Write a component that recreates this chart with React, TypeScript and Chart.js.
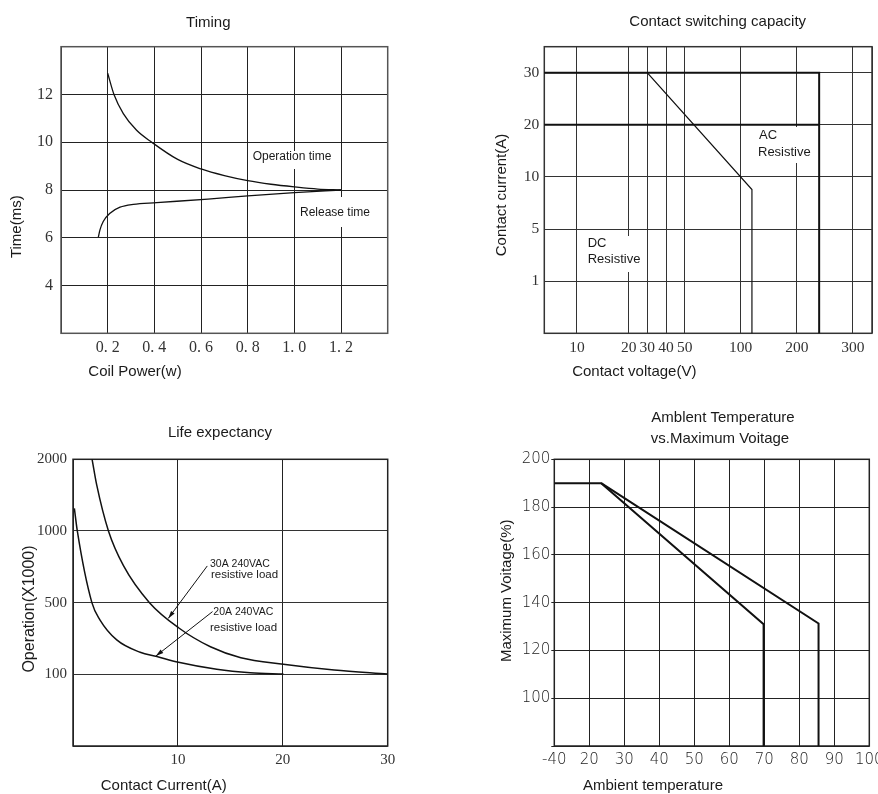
import React, { useEffect, useRef } from 'react';
import { Chart, LinearScale, registerables } from 'chart.js';

Chart.register(...registerables);

// ---------------- DATA ----------------
// Timing
const TIMING_X_TICKS = [0, 0.2, 0.4, 0.6, 0.8, 1.0, 1.2, 1.4];
const TIMING_Y_TICKS = [2, 4, 6, 8, 10, 12, 14];
const OP_POWER = [0.2, 0.227, 0.267, 0.324, 0.389, 0.5, 0.6, 0.7, 0.8, 0.9, 1.0, 1.1, 1.2];
const OP_TIME = [12.89, 12.0, 11.2, 10.5, 10.0, 9.28, 8.88, 8.6, 8.39, 8.24, 8.13, 8.04, 8.0];
const REL_POWER = [0.16, 0.167, 0.181, 0.21, 0.253, 0.31, 0.41, 0.63, 0.8, 1.0, 1.2];
const REL_TIME = [6.03, 6.33, 6.68, 7.03, 7.28, 7.4, 7.47, 7.62, 7.75, 7.89, 8.0];

// Contact switching capacity (axes with scale breaks)
const VOLT_BREAKS = [0, 10, 20, 30, 40, 50, 100, 200, 300, 334];
const VOLT_SLOTS = [0, 1.75, 4.52, 5.52, 6.52, 7.52, 10.52, 13.52, 16.52, 17.55];
const VOLT_LABELS = ['', '10', '20', '30', '40', '50', '100', '200', '300', ''];
const AMP_BREAKS = [0, 1, 5, 10, 20, 30, 35];
const AMP_SLOTS = [0, 1, 2, 3, 4, 5, 5.5];
const AMP_LABELS = ['', '1', '5', '10', '20', '30', ''];
const DC_VOLT = [0, 30, 120, 120];
const DC_AMP = [30, 30, 8.8, 0];
const AC30_VOLT = [0, 240, 240];
const AC30_AMP = [30, 30, 0];
const AC20_VOLT = [0, 240];
const AC20_AMP = [20, 20];

// Life expectancy
const LIFE_X_TICKS = [0, 10, 20, 30];
const OPS_BREAKS = [0, 100, 500, 1000, 2000];
const OPS_SLOTS = [0, 1, 2, 3, 4];
const OPS_LABELS = ['', '100', '500', '1000', '2000'];
const CUR30 = [1.82, 2.26, 3.38, 4.81, 7.29, 10.06, 13.1, 16.0, 20.06, 24.9, 30];
const OPS30 = [2000, 1642, 1000, 758, 500, 360, 254, 193, 156, 124, 102];
const CUR20 = [0.13, 0.41, 1.8, 2.58, 4.17, 6.4, 8.0, 10.06, 13.7, 16.9, 20.06];
const OPS20 = [1316, 1000, 500, 403, 292, 223, 199, 167, 128, 109, 102];
const ARROW30 = [12.8, 756, 9.08, 412]; // from (A, ops) to (A, ops)
const ARROW20 = [13.3, 450, 7.9, 202];

// Ambient temperature vs maximum voltage
const TEMP_BREAKS = [-40, 20, 30, 40, 50, 60, 70, 80, 90, 100];
const TEMP_SLOTS = [0, 1, 2, 3, 4, 5, 6, 7, 8, 9];
const VOLT_PCT_TICKS = [80, 100, 120, 140, 160, 180, 200];
const LINE_A_T = [-40, 23.4, 69.8, 69.8];
const LINE_A_V = [190, 190, 131, 80];
const LINE_B_T = [23.4, 85.5, 85.5];
const LINE_B_V = [190, 131.3, 80];

// ---------------- HELPERS ----------------
const W = 878;
const H = 794;
const YW = 50; // reserved width of y axes
const XH = 40; // reserved height of x axes
const SANS = '"Liberation Sans", Arial, sans-serif';
const SERIF = '"Liberation Serif", "Times New Roman", serif';
const THIN = '"DejaVu Sans", sans-serif';
const INK = '#111';

function interp(v: number, xs: number[], ys: number[]) {
  let i = 1;
  while (i < xs.length - 1 && v > xs[i]) i++;
  const t = (v - xs[i - 1]) / (xs[i] - xs[i - 1]);
  return ys[i - 1] + t * (ys[i] - ys[i - 1]);
}

function makePiecewiseScale(id: string, values: number[], slots: number[]) {
  const s0 = slots[0];
  const s1 = slots[slots.length - 1];
  return class extends LinearScale {
    static id = id;
    static defaults = LinearScale.defaults;
    buildTicks() {
      return values.map((v) => ({ value: v }));
    }
    getPixelForValue(value: any) {
      if (value === null || value === undefined || isNaN(value)) return NaN;
      return (this as any).getPixelForDecimal((interp(value, values, slots) - s0) / (s1 - s0));
    }
    getValueForPixel(pixel: number) {
      return interp(s0 + (this as any).getDecimalForPixel(pixel) * (s1 - s0), slots, values);
    }
  };
}

Chart.register(
  makePiecewiseScale('pwVolt', VOLT_BREAKS, VOLT_SLOTS) as any,
  makePiecewiseScale('pwAmp', AMP_BREAKS, AMP_SLOTS) as any,
  makePiecewiseScale('pwOps', OPS_BREAKS, OPS_SLOTS) as any,
  makePiecewiseScale('pwTemp', TEMP_BREAKS, TEMP_SLOTS) as any
);

const zip = (xs: number[], ys: number[]) => xs.map((x, i) => ({ x, y: ys[i] }));

function fitFixed(scale: any) {
  if (scale.isHorizontal()) scale.height = XH;
  else scale.width = YW;
  scale.paddingLeft = 0;
  scale.paddingRight = 0;
  scale.paddingTop = 0;
  scale.paddingBottom = 0;
}

type TextItem = {
  text: string;
  x: number;
  y: number;
  size: number;
  align?: CanvasTextAlign;
  rotate?: boolean;
  bg?: [number, number, number, number];
};

function textPlugin(items: TextItem[]) {
  return {
    id: 'texts',
    afterDraw(chart: any) {
      const ctx = chart.ctx;
      items.forEach((it) => {
        ctx.save();
        if (it.bg) {
          ctx.fillStyle = '#fff';
          ctx.fillRect(it.bg[0], it.bg[1], it.bg[2], it.bg[3]);
        }
        ctx.fillStyle = '#1a1a1a';
        ctx.font = `${it.size}px ${SANS}`;
        ctx.textAlign = it.align || 'center';
        ctx.textBaseline = 'middle';
        if (it.rotate) {
          ctx.translate(it.x, it.y);
          ctx.rotate(-Math.PI / 2);
          ctx.fillText(it.text, 0, 0);
        } else {
          ctx.fillText(it.text, it.x, it.y);
        }
        ctx.restore();
      });
    },
  };
}

function framePlugin(color: string, width: number) {
  return {
    id: 'frame',
    beforeDatasetsDraw(chart: any) {
      const { ctx, chartArea: a } = chart;
      ctx.save();
      ctx.strokeStyle = color;
      ctx.lineWidth = width;
      ctx.strokeRect(a.left, a.top, a.right - a.left, a.bottom - a.top);
      ctx.restore();
    },
  };
}

function arrowPlugin(arrows: number[][]) {
  return {
    id: 'arrows',
    afterDatasetsDraw(chart: any) {
      const { ctx } = chart;
      const sx = chart.scales.x;
      const sy = chart.scales.y;
      arrows.forEach((a) => {
        const x1 = sx.getPixelForValue(a[0]);
        const y1 = sy.getPixelForValue(a[1]);
        const x2 = sx.getPixelForValue(a[2]);
        const y2 = sy.getPixelForValue(a[3]);
        const ang = Math.atan2(y2 - y1, x2 - x1);
        ctx.save();
        ctx.strokeStyle = INK;
        ctx.fillStyle = INK;
        ctx.lineWidth = 1;
        ctx.beginPath();
        ctx.moveTo(x1, y1);
        ctx.lineTo(x2, y2);
        ctx.stroke();
        const L = 8;
        const s = 0.28;
        ctx.beginPath();
        ctx.moveTo(x2, y2);
        ctx.lineTo(x2 - L * Math.cos(ang - s), y2 - L * Math.sin(ang - s));
        ctx.lineTo(x2 - L * Math.cos(ang + s), y2 - L * Math.sin(ang + s));
        ctx.closePath();
        ctx.fill();
        ctx.restore();
      });
    },
  };
}

function area(left: number, top: number, right: number, bottom: number) {
  return { left: left - YW, top, right: W - right, bottom: H - bottom - XH };
}

function axis(extra: any) {
  return {
    afterFit: fitFixed,
    border: { display: false },
    ...extra,
    grid: { color: '#222', lineWidth: 1, drawTicks: false, tickLength: 0, ...(extra.grid || {}) },
    ticks: {
      autoSkip: false,
      maxRotation: 0,
      minRotation: 0,
      color: '#333',
      ...(extra.ticks || {}),
    },
  };
}

function baseOptions(padding: any, scales: any) {
  return {
    responsive: false,
    animation: false as const,
    events: [],
    layout: { padding },
    plugins: { legend: { display: false }, tooltip: { enabled: false }, title: { display: false } },
    scales,
  };
}

function lineDs(data: any[], width: number, smooth: boolean) {
  return {
    data,
    borderColor: INK,
    borderWidth: width,
    pointRadius: 0,
    fill: false,
    cubicInterpolationMode: smooth ? ('monotone' as const) : ('default' as const),
    tension: 0,
    clip: 4,
  };
}

function makeTiming(canvas: HTMLCanvasElement) {
  const fmt = (v: number) => {
    const r = Math.round(v * 10) / 10;
    if (r <= 0 || r >= 1.4) return '';
    return r.toFixed(1).replace('.', '. ');
  };
  return new Chart(canvas, {
    type: 'line',
    data: {
      datasets: [
        lineDs(zip(OP_POWER, OP_TIME), 1.3, true),
        lineDs(zip(REL_POWER, REL_TIME), 1.3, true),
      ],
    },
    options: baseOptions(area(61, 46.7, 387.7, 333.3), {
      x: axis({
        type: 'linear',
        min: 0,
        max: 1.4,
        afterBuildTicks: (s: any) => (s.ticks = TIMING_X_TICKS.map((v) => ({ value: v }))),
        ticks: { padding: 5, font: { family: SERIF, size: 16 }, callback: fmt },
      }),
      y: axis({
        type: 'linear',
        min: 2,
        max: 14,
        afterBuildTicks: (s: any) => (s.ticks = TIMING_Y_TICKS.map((v) => ({ value: v }))),
        ticks: {
          padding: 8,
          font: { family: SERIF, size: 16 },
          callback: (v: number) => (v <= 2 || v >= 14 ? '' : String(v)),
        },
      }),
    }),
    plugins: [
      framePlugin('#555', 1.5),
      textPlugin([
        { text: 'Timing', x: 208.3, y: 22.7, size: 15 },
        { text: 'Time(ms)', x: 17.3, y: 226.7, size: 15, rotate: true },
        { text: 'Coil Power(w)', x: 135, y: 372.3, size: 15 },
        { text: 'Operation time', x: 292, y: 157, size: 12, bg: [254, 151, 76, 18] },
        { text: 'Release time', x: 335, y: 213, size: 12, bg: [300, 197, 72, 30] },
      ]),
    ] as any,
  } as any);
}

function makeCapacity(canvas: HTMLCanvasElement) {
  return new Chart(canvas, {
    type: 'line',
    data: {
      datasets: [
        lineDs(zip(AC30_VOLT, AC30_AMP), 2, false),
        lineDs(zip(AC20_VOLT, AC20_AMP), 2, false),
        lineDs(zip(DC_VOLT, DC_AMP), 1.2, false),
      ],
    },
    options: baseOptions(area(544.3, 46.7, 872, 333.3), {
      x: axis({
        type: 'pwVolt',
        min: VOLT_BREAKS[0],
        max: VOLT_BREAKS[VOLT_BREAKS.length - 1],
        grid: { color: '#333' },
        ticks: {
          padding: 5,
          font: { family: SERIF, size: 15.5 },
          callback: (_v: number, i: number) => VOLT_LABELS[i],
        },
      }),
      y: axis({
        type: 'pwAmp',
        min: AMP_BREAKS[0],
        max: AMP_BREAKS[AMP_BREAKS.length - 1],
        grid: { color: '#333' },
        ticks: {
          padding: 5,
          font: { family: SERIF, size: 15.5 },
          callback: (_v: number, i: number) => AMP_LABELS[i],
        },
      }),
    }),
    plugins: [
      framePlugin('#333', 1.5),
      textPlugin([
        { text: 'Contact switching capacity', x: 717.7, y: 22.3, size: 15 },
        { text: 'Contact current(A)', x: 501.7, y: 195, size: 15, rotate: true },
        { text: 'Contact voltage(V)', x: 634.3, y: 372, size: 15 },
        { text: 'AC', x: 759, y: 135, size: 13, align: 'left', bg: [756, 127, 57, 36] },
        { text: 'Resistive', x: 758, y: 152, size: 13, align: 'left' },
        { text: 'DC', x: 587.7, y: 243, size: 13, align: 'left', bg: [585, 236, 57, 36] },
        { text: 'Resistive', x: 587.7, y: 259, size: 13, align: 'left' },
      ]),
    ] as any,
  } as any);
}

function makeLife(canvas: HTMLCanvasElement) {
  return new Chart(canvas, {
    type: 'line',
    data: {
      datasets: [
        lineDs(zip(CUR30, OPS30), 1.5, true),
        lineDs(zip(CUR20, OPS20), 1.5, true),
      ],
    },
    options: baseOptions(area(73, 459.3, 387.7, 746), {
      x: axis({
        type: 'linear',
        min: 0,
        max: 30,
        afterBuildTicks: (s: any) => (s.ticks = LIFE_X_TICKS.map((v) => ({ value: v }))),
        ticks: {
          padding: 5,
          font: { family: SERIF, size: 15 },
          callback: (v: number) => (v <= 0 ? '' : String(v)),
        },
      }),
      y: axis({
        type: 'pwOps',
        min: OPS_BREAKS[0],
        max: OPS_BREAKS[OPS_BREAKS.length - 1],
        grid: { color: '#333' },
        ticks: {
          padding: 6,
          font: { family: SERIF, size: 15 },
          callback: (_v: number, i: number) => OPS_LABELS[i],
        },
      }),
    }),
    plugins: [
      framePlugin('#222', 1.5),
      arrowPlugin([ARROW30, ARROW20]),
      textPlugin([
        { text: 'Life expectancy', x: 220, y: 433.3, size: 15 },
        { text: 'Operation(X1000)', x: 30, y: 609, size: 16, rotate: true },
        { text: 'Contact Current(A)', x: 163.7, y: 785.7, size: 15 },
        { text: '30A 240VAC', x: 210, y: 564.3, size: 10.5, align: 'left' },
        { text: 'resistive load', x: 211, y: 575, size: 11.5, align: 'left' },
        { text: '20A 240VAC', x: 213.3, y: 611.7, size: 10.5, align: 'left' },
        { text: 'resistive load', x: 210, y: 628.3, size: 11.5, align: 'left' },
      ]),
    ] as any,
  } as any);
}

function makeTemp(canvas: HTMLCanvasElement) {
  return new Chart(canvas, {
    type: 'line',
    data: {
      datasets: [
        lineDs(zip(LINE_A_T, LINE_A_V), 2, false),
        lineDs(zip(LINE_B_T, LINE_B_V), 2, false),
      ],
    },
    options: baseOptions(area(554.3, 459.3, 869.3, 746), {
      x: axis({
        type: 'pwTemp',
        min: TEMP_BREAKS[0],
        max: TEMP_BREAKS[TEMP_BREAKS.length - 1],
        grid: { color: '#222' },
        ticks: {
          padding: 5,
          color: '#222',
          font: { family: THIN, size: 15, weight: 200 },
          callback: (v: number) => String(v),
        },
      }),
      y: axis({
        type: 'linear',
        min: 80,
        max: 200,
        afterBuildTicks: (s: any) => (s.ticks = VOLT_PCT_TICKS.map((v) => ({ value: v }))),
        grid: { color: '#222', drawTicks: true, tickLength: 3 },
        ticks: {
          padding: 1,
          color: '#222',
          font: { family: THIN, size: 15, weight: 200 },
          callback: (v: number) => (v <= 80 ? '' : String(v)),
        },
      }),
    }),
    plugins: [
      framePlugin('#222', 1.5),
      textPlugin([
        { text: 'Amblent Temperature', x: 723, y: 418.3, size: 15 },
        { text: 'vs.Maximum Voitage', x: 720, y: 439, size: 15 },
        { text: 'Maximum Voitage(%)', x: 506.7, y: 590.8, size: 15, rotate: true },
        { text: 'Ambient temperature', x: 653, y: 785.7, size: 15 },
      ]),
    ] as any,
  } as any);
}

export default function App() {
  const r1 = useRef<HTMLCanvasElement>(null);
  const r2 = useRef<HTMLCanvasElement>(null);
  const r3 = useRef<HTMLCanvasElement>(null);
  const r4 = useRef<HTMLCanvasElement>(null);

  useEffect(() => {
    const charts = [
      makeTiming(r1.current!),
      makeCapacity(r2.current!),
      makeLife(r3.current!),
      makeTemp(r4.current!),
    ];
    return () => charts.forEach((c) => c.destroy());
  }, []);

  const cs: React.CSSProperties = { position: 'absolute', left: 0, top: 0, width: W, height: H };
  return (
    <div style={{ position: 'absolute', left: 0, top: 0, width: W, height: H, background: '#fff', overflow: 'hidden' }}>
      <canvas ref={r1} width={W} height={H} style={cs} />
      <canvas ref={r2} width={W} height={H} style={cs} />
      <canvas ref={r3} width={W} height={H} style={cs} />
      <canvas ref={r4} width={W} height={H} style={cs} />
    </div>
  );
}
